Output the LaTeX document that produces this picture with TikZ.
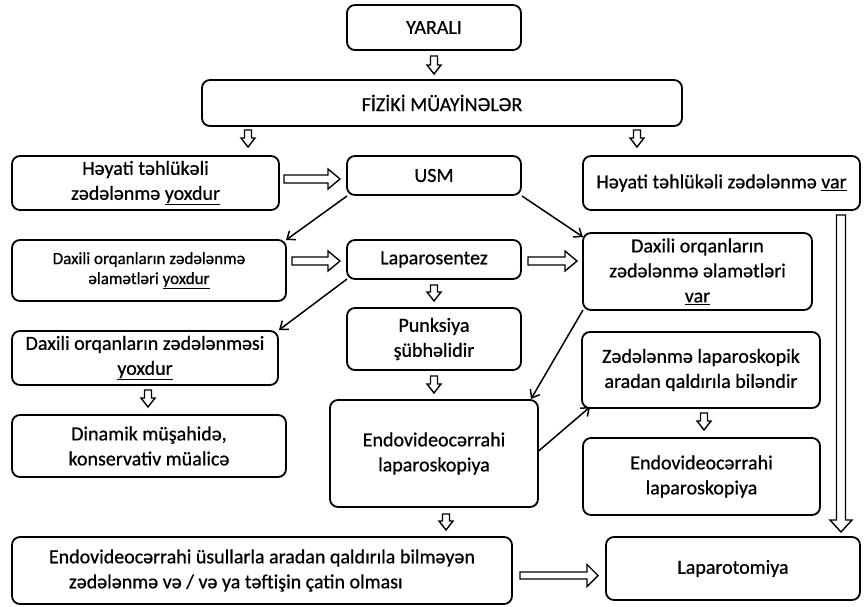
\documentclass[tikz,border=0pt]{standalone}
\usepackage{fontspec}
\setmainfont{Carlito}[BoldFont=Carlito, BoldFeatures={FakeBold=0.7}]
\usetikzlibrary{calc,arrows.meta}
\newcommand\dnarr[5]{% #1 top point, #2 length, #3 shaft half, #4 head half, #5 head length
  \draw[hollow] #1 ++(-#3,0) -- ++(0,#2-#5) -- ++(#3-#4,0) -- ++(#4,#5) -- ++(#4,-#5) -- ++(#3-#4,0) -- ++(0,-#2+#5) -- cycle;}
\newcommand\rtarr[5]{% #1 left point, #2 length, #3 shaft half, #4 head half, #5 head length
  \draw[hollow] #1 ++(0,-#3) -- ++(#2-#5,0) -- ++(0,#3-#4) -- ++(#5,#4) -- ++(-#5,#4) -- ++(0,#3-#4) -- ++(-#2+#5,0) -- cycle;}
\begin{document}
\begin{tikzpicture}[x=1pt,y=-1pt,
  box/.style={draw, line width=1.8pt, rounded corners=8pt, inner sep=2pt, outer sep=0pt,
    align=center, font=\fontsize{20}{25}\selectfont\bfseries},
  hollow/.style={draw, line width=1.4pt, fill=white, line join=miter},
  conn/.style={line width=1.5pt, -{Straight Barb[length=7pt,width=11pt]}}]
\useasboundingbox (0,0) rectangle (865,607);

\node[box, minimum width=174pt, minimum height=45pt] (yarali) at (434,27.5) {YARALI};
\node[box, minimum width=480pt, minimum height=46pt] (fiziki) at (442,103) {FİZİKİ MÜAYİNƏLƏR};
\node[box, minimum width=267pt, minimum height=54pt] (hyox) at (145.5,183) {Həyati təhlükəli\\zədələnmə \underline{yoxdur}};
\node[box, minimum width=174pt, minimum height=39pt] (usm) at (434,175.5) {USM};
\node[box, minimum width=277pt, minimum height=54pt] (hvar) at (721.5,183) {Həyati təhlükəli zədələnmə \underline{var}};
\node[box, minimum width=274pt, minimum height=61pt, font=\fontsize{17}{20}\selectfont\bfseries] (dyox) at (149,270.5) {Daxili orqanların zədələnmə\\əlamətləri \underline{yoxdur}};
\node[box, minimum width=174pt, minimum height=39pt] (lapsen) at (434,259.5) {Laparosentez};
\node[box, minimum width=229pt, minimum height=77pt] (dvar) at (697.5,271.5) {Daxili orqanların\\zədələnmə əlamətləri\\\underline{var}};
\node[box, minimum width=266pt, minimum height=54pt] (dzyox) at (145,358) {Daxili orqanların zədələnməsi\\\underline{yoxdur}};
\node[box, minimum width=174pt, minimum height=62pt] (punk) at (434,339) {Punksiya\\şübhəlidir};
\node[box, minimum width=238pt, minimum height=76pt] (zlap) at (701,370) {Zədələnmə laparoskopik\\aradan qaldırıla biləndir};
\node[box, minimum width=274pt, minimum height=62pt] (dinam) at (149,446) {Dinamik müşahidə,\\konservativ müalicə};
\node[box, minimum width=208pt, minimum height=107pt] (endo1) at (434,453.5) {Endovideocərrahi\\laparoskopiya};
\node[box, minimum width=237pt, minimum height=77pt] (endo2) at (701.5,476.5) {Endovideocərrahi\\laparoskopiya};
\node[box, minimum width=500pt, minimum height=67pt, align=left] (endous) at (262,570.5) {Endovideocərrahi üsullarla aradan qaldırıla bilməyən\\\hspace*{20pt}zədələnmə və / və ya təftişin çatin olması};
\node[box, minimum width=254pt, minimum height=63pt] (lapt) at (733,568.5) {Laparotomiya};

% hollow down arrows
\dnarr{($(yarali.south)+(0,6)$)}{18}{3.5}{7}{9}
\dnarr{($(fiziki.south west)+(46,4)$)}{17}{3.5}{7}{9}
\dnarr{($(fiziki.south west)+(435,4)$)}{17}{3.5}{7}{9}
\dnarr{($(lapsen.south)+(0,6)$)}{16}{3.5}{7}{9}
\dnarr{($(punk.south)+(0,6)$)}{17}{3.5}{7}{9}
\dnarr{($(dzyox.south)+(3,5)$)}{17}{3.5}{7}{9}
\dnarr{($(zlap.south)+(3,5)$)}{17}{3.5}{7}{9}
\dnarr{($(endo1.south)+(12,7)$)}{16}{3.5}{7}{9}
% long vertical arrow
\dnarr{($(hvar.south east)+(-19,5)$)}{317}{4.5}{11}{12}

% hollow right arrows
\rtarr{($(hyox.east)+(5,-4)$)}{56}{4}{10}{12}
\rtarr{($(lapsen.west)+(-55,1.5)$)}{48}{4}{10}{12}
\rtarr{($(lapsen.east)+(7,1.5)$)}{49}{4}{10}{12}
\rtarr{($(endous.east)+(8,5)$)}{78}{3.5}{11}{11}

% connectors
\draw[conn] ($(usm.south west)+(0,1)$) -- (dyox.north east);
\draw[conn] ($(usm.south east)+(1,1)$) -- ($(dvar.north west)+(0,4)$);
\draw[conn] (lapsen.south west) -- ($(dzyox.north east)+(1,-1)$);
\draw[conn] (dvar.south west) -- ($(endo1.north east)+(-7,-1)$);
\draw[conn] ($(endo1.east)+(0,-2)$) -- ($(zlap.south west)+(8,-1)$);
\end{tikzpicture}
\end{document}
